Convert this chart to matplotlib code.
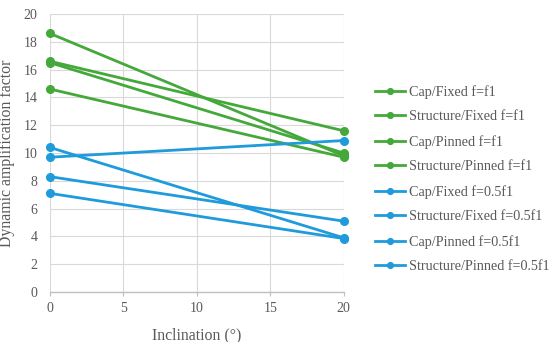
import matplotlib
matplotlib.use("Agg")
import matplotlib.pyplot as plt

# ---------- Data ----------
inclination = [0, 20]
labels = ["Cap/Fixed f=f1", "Structure/Fixed f=f1", "Cap/Pinned f=f1", "Structure/Pinned f=f1",
          "Cap/Fixed f=0.5f1", "Structure/Fixed f=0.5f1", "Cap/Pinned f=0.5f1", "Structure/Pinned f=0.5f1"]
cap_fixed_f1 = [18.6, 9.8]
struct_fixed_f1 = [16.6, 11.6]
cap_pinned_f1 = [16.5, 10.0]
struct_pinned_f1 = [14.6, 9.7]
cap_fixed_half = [10.4, 3.9]
struct_fixed_half = [9.7, 10.9]
cap_pinned_half = [8.3, 5.1]
struct_pinned_half = [7.1, 3.85]

series = [cap_fixed_f1, struct_fixed_f1, cap_pinned_f1, struct_pinned_f1,
          cap_fixed_half, struct_fixed_half, cap_pinned_half, struct_pinned_half]
green = "#45A83A"
blue = "#1F9BDB"
colors = [green] * 4 + [blue] * 4

plt.rcParams['font.family'] = ['Liberation Serif', 'DejaVu Serif']
text_col = "#595959"

fig = plt.figure(figsize=(5.5, 3.42), dpi=100)
ax = fig.add_axes([0.091, 0.146, 0.534, 0.813])

for vals, lab, c in zip(series, labels, colors):
    ax.plot(inclination, vals, color=c, lw=2.0, marker='o', markersize=5.5,
            label=lab, clip_on=False, zorder=3)

ax.set_xlim(0, 20)
ax.set_ylim(0, 20)
ax.set_xticks([0, 5, 10, 15, 20])
ax.set_yticks(range(0, 21, 2))
ax.grid(True, color="#D9D9D9", lw=0.8)
ax.set_axisbelow(True)
for s in ["top", "right", "left"]:
    ax.spines[s].set_visible(False)
ax.spines["bottom"].set_color("#BFBFBF")
ax.spines["bottom"].set_linewidth(1.0)
ax.tick_params(axis='y', colors=text_col, labelsize=10, length=0, pad=9)
ax.tick_params(axis='x', colors=text_col, labelsize=10, length=3, width=0.8,
               color="#BFBFBF", pad=4)
ax.set_xlabel("Inclination (°)", color=text_col, fontsize=11.4, labelpad=9)
ax.set_ylabel("Dynamic amplification factor", color=text_col, fontsize=11.4, labelpad=6)

leg = ax.legend(loc="upper left", bbox_to_anchor=(1.086, 0.766), frameon=False, fontsize=10.2,
                labelcolor=text_col, handlelength=2.15, labelspacing=0.82, handletextpad=0.3,
                markerscale=0.75, borderaxespad=0)

fig.savefig("out.png", dpi=100)
